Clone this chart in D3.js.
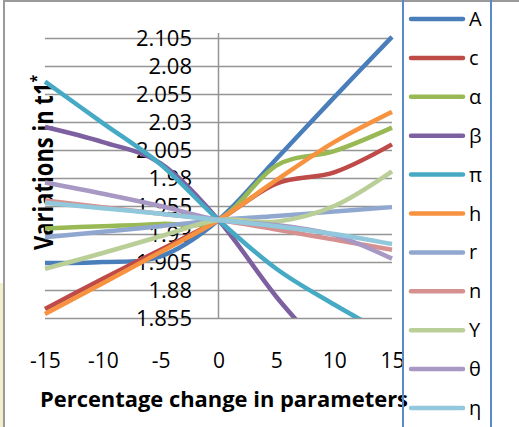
<!DOCTYPE html>
<html><head><meta charset="utf-8">
<script src="https://cdn.jsdelivr.net/npm/d3@7"></script>
<style>html,body{margin:0;padding:0;background:#fff;}svg{display:block;}</style>
</head><body>
<script>
const xValues = [-15, -10, -5, 0, 5, 10, 15];
const seriesNames = ["A", "c", "α", "β", "π", "h", "r", "n", "Υ", "θ", "η"];
const seriesColors = ["#4A7EBB", "#BE4B48", "#98B954", "#7D60A0", "#46AAC5", "#F69240", "#90A8D0", "#D6908F", "#BACF98", "#A899C4", "#91C8DB"];
const sA     = [1.904, 1.905, 1.910, 1.9425, 1.997, 2.052, 2.106];
const sC     = [1.863, 1.890, 1.916, 1.9425, 1.975, 1.985, 2.010];
const sAlpha = [1.935, 1.937, 1.939, 1.9425, 1.991, 2.004, 2.025];
const sBeta  = [2.0255, 2.012, 1.993, 1.9425, 1.874, 1.815, 1.750];
const sPi    = [2.066, 2.029, 1.992, 1.9425, 1.899, 1.867, 1.838];
const sH     = [1.8585, 1.886, 1.914, 1.9425, 1.978, 2.012, 2.039];
const sR     = [1.927, 1.932, 1.937, 1.9425, 1.946, 1.950, 1.954];
const sN     = [1.960, 1.954, 1.948, 1.9425, 1.934, 1.925, 1.916];
const sUps   = [1.899, 1.913, 1.928, 1.9425, 1.941, 1.955, 1.986];
const sTheta = [1.976, 1.966, 1.955, 1.9425, 1.938, 1.929, 1.908];
const sEta   = [1.958, 1.953, 1.948, 1.9425, 1.937, 1.930, 1.921];
const seriesValues = [sA, sC, sAlpha, sBeta, sPi, sH, sR, sN, sUps, sTheta, sEta];
const yTicks = [1.855, 1.88, 1.905, 1.93, 1.955, 1.98, 2.005, 2.03, 2.055, 2.08, 2.105];
const yTickLabels = ["1.855", "1.88", "1.905", "1.93", "1.955", "1.98", "2.005", "2.03", "2.055", "2.08", "2.105"];
const xTicks = [-15, -10, -5, 0, 5, 10, 15];
const xTitle = "Percentage change in parameters";
const yTitle = "Variations in t1";

const W = 519, H = 427;
const svg = d3.select("body").append("svg").attr("width", W).attr("height", H)
  .style("font-family", "'Open Sans', 'Liberation Sans', sans-serif");

// outer frame
svg.append("rect").attr("x", 0).attr("y", 283).attr("width", 3).attr("height", 144).attr("fill", "#F2F0CC");
svg.append("line").attr("x1", 3).attr("x2", W).attr("y1", 1).attr("y2", 1).attr("stroke", "#9a9a9a").attr("stroke-width", 2);
svg.append("line").attr("x1", 4).attr("x2", 4).attr("y1", 0).attr("y2", H).attr("stroke", "#9a9a9a").attr("stroke-width", 2);

const x = d3.scaleLinear().domain([-15, 15]).range([45, 392]);
const y = d3.scaleLinear().domain([1.855, 2.105]).range([318, 38]);

// gridlines
const yAxis = d3.axisLeft(y).tickValues(yTicks).tickSize(-(x(15) - x(-15))).tickFormat("");
const gy = svg.append("g").attr("transform", `translate(${x(-15)},0)`).call(yAxis);
gy.select(".domain").remove();
gy.selectAll(".tick line").attr("stroke", "#959595").attr("stroke-width", 1.5);

// vertical axis line at 0
svg.append("line").attr("x1", x(0)).attr("x2", x(0)).attr("y1", 33).attr("y2", y(1.855))
  .attr("stroke", "#959595").attr("stroke-width", 1.5);

// y tick labels
svg.append("g").selectAll("text").data(yTicks).join("text")
  .attr("x", 192).attr("y", d => y(d) + 8)
  .attr("text-anchor", "end").attr("font-size", 22).attr("fill", "#000")
  .text((d, i) => yTickLabels[i]);

// x tick labels
const xAxis = d3.axisBottom(x).tickValues(xTicks).tickSize(0).tickFormat(d => String(d));
const gx = svg.append("g").attr("transform", `translate(0,${y(1.855)})`).call(xAxis);
gx.select(".domain").remove();
gx.selectAll(".tick text").attr("y", 50).attr("dy", 0).attr("font-size", 21)
  .attr("font-family", "'Open Sans', sans-serif").attr("fill", "#000");

// y title
const yt = svg.append("text").attr("transform", "translate(53,250) scale(1.2,1) rotate(-90)")
  .attr("font-size", 22).attr("font-weight", "bold").attr("fill", "#000");
yt.append("tspan").text(yTitle);
yt.append("tspan").attr("font-size", 14).attr("dy", -9).text("*");

// x title
svg.append("text").attr("x", 40).attr("y", 407).attr("font-size", 21).attr("font-weight", "bold")
  .attr("fill", "#000").attr("textLength", 368).attr("lengthAdjust", "spacingAndGlyphs").text(xTitle);

// series
svg.append("clipPath").attr("id", "plotclip").append("rect")
  .attr("x", 38).attr("y", 30).attr("width", 362).attr("height", y(1.855) - 30);
const line = d3.line().x((d, i) => x(xValues[i])).y(d => y(d)).curve(d3.curveCardinal.tension(0));
const gs = svg.append("g").attr("clip-path", "url(#plotclip)");
seriesValues.forEach((vals, k) => {
  gs.append("path").attr("d", line(vals)).attr("fill", "none")
    .attr("stroke", seriesColors[k]).attr("stroke-width", 4.5)
    .attr("stroke-linejoin", "round");
});

// legend
svg.append("line").attr("x1", 403).attr("x2", 403).attr("y1", 0).attr("y2", H).attr("stroke", "#5A89C8").attr("stroke-width", 2);
svg.append("line").attr("x1", 491).attr("x2", 491).attr("y1", 0).attr("y2", H).attr("stroke", "#5A89C8").attr("stroke-width", 2);
const lg = svg.append("g");
seriesNames.forEach((name, k) => {
  const cy = 19 + k * 38.9;
  lg.append("line").attr("x1", 411).attr("x2", 463).attr("y1", cy).attr("y2", cy)
    .attr("stroke", seriesColors[k]).attr("stroke-width", 4.5).attr("stroke-linecap", "round");
  lg.append("text").attr("x", 469).attr("y", cy + 7).attr("font-size", 20).attr("fill", "#000").text(name);
});
</script>
</body></html>
